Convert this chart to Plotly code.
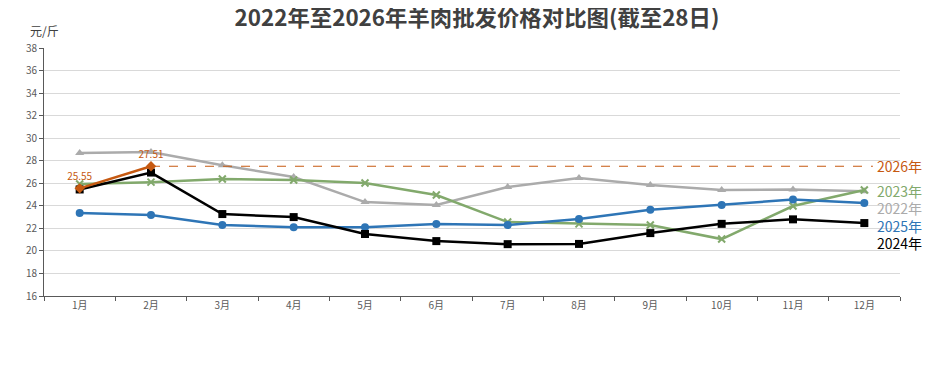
import plotly.graph_objects as go

months = ["1月", "2月", "3月", "4月", "5月", "6月", "7月", "8月", "9月", "10月", "11月", "12月"]
y2022 = [28.68, 28.77, 27.6, 26.55, 24.33, 24.07, 25.67, 26.47, 25.85, 25.4, 25.45, 25.3]
y2023 = [25.93, 26.1, 26.38, 26.29, 26.02, 24.96, 22.56, 22.4, 22.3, 21.05, 23.98, 25.4]
y2024 = [25.45, 26.95, 23.27, 23.0, 21.5, 20.87, 20.6, 20.62, 21.58, 22.4, 22.8, 22.47]
y2025 = [23.36, 23.18, 22.3, 22.1, 22.1, 22.38, 22.3, 22.83, 23.65, 24.07, 24.55, 24.25]
months2026 = ["1月", "2月"]
y2026 = [25.55, 27.51]
labels2026 = ["25.55", "27.51"]

FONT = "Noto Sans CJK SC"
C22, C23, C24, C25, C26 = "#ABABAB", "#82A96C", "#000000", "#2E75B6", "#C65911"

fig = go.Figure()
fig.add_trace(go.Scatter(x=months, y=y2022, mode="lines+markers", name="2022年",
                         line=dict(color=C22, width=2.5), marker=dict(symbol="triangle-up", size=8, color=C22)))
fig.add_trace(go.Scatter(x=months, y=y2023, mode="lines+markers", name="2023年",
                         line=dict(color=C23, width=2.5), marker=dict(symbol="x-thin", size=7, color=C23, line=dict(color=C23, width=2))))
fig.add_trace(go.Scatter(x=months, y=y2025, mode="lines+markers", name="2025年",
                         line=dict(color=C25, width=2.5), marker=dict(symbol="circle", size=8, color=C25)))
fig.add_trace(go.Scatter(x=months, y=y2024, mode="lines+markers", name="2024年",
                         line=dict(color=C24, width=2.5), marker=dict(symbol="square", size=8, color=C24)))
fig.add_trace(go.Scatter(x=months2026, y=y2026, mode="lines+markers+text", name="2026年",
                         text=labels2026, textposition="top center",
                         textfont=dict(color=C26, size=10, family=FONT),
                         line=dict(color=C26, width=2.5), marker=dict(symbol="diamond", size=8, color=C26)))

# dashed reference line at latest 2026 value
fig.add_shape(type="line", xref="x", yref="y", x0=1, x1=11.12, y0=y2026[-1], y1=y2026[-1],
              line=dict(color=C26, width=1.2, dash="dash"))

# right-side series labels
end_labels = [("2026年", 27.51, C26), ("2023年", 25.3, C23), ("2022年", 23.8, C22),
              ("2025年", 22.2, C25), ("2024年", 20.68, "#000000")]
for txt, yv, col in end_labels:
    fig.add_annotation(x=11.15, y=yv, xref="x", yref="y", text=txt, showarrow=False,
                       xanchor="left", yanchor="middle", font=dict(color=col, size=14, family=FONT))

fig.add_annotation(x=0.0, y=1.072, xref="paper", yref="paper", text="元/斤", showarrow=False,
                   xanchor="center", yanchor="middle",
                   font=dict(size=12, color="#404040", family=FONT))

fig.update_layout(
    width=938, height=390,
    margin=dict(l=36, r=46, t=40, b=102),
    paper_bgcolor="white", plot_bgcolor="white",
    showlegend=False,
    font=dict(family=FONT, color="#595959"),
    title=dict(text="<b>2022年至2026年羊肉批发价格对比图(截至28日)</b>", x=0.5, xanchor="center",
               y=0.975, yanchor="middle", font=dict(size=22.4, color="#404040", family=FONT)),
    xaxis=dict(type="category", range=[-0.5, 11.5], tickson="boundaries", ticks="outside",
               ticklen=4, tickcolor="#595959", showline=True, linecolor="#595959", linewidth=1,
               showgrid=False, tickfont=dict(size=10, color="#595959"), fixedrange=True),
    yaxis=dict(range=[16, 38], dtick=2, ticks="outside", ticklen=4, tickcolor="#595959",
               showline=True, linecolor="#595959", linewidth=1, gridcolor="#D9D9D9",
               tickfont=dict(size=10, color="#595959"), zeroline=False),
)

fig.write_html("out.html")
